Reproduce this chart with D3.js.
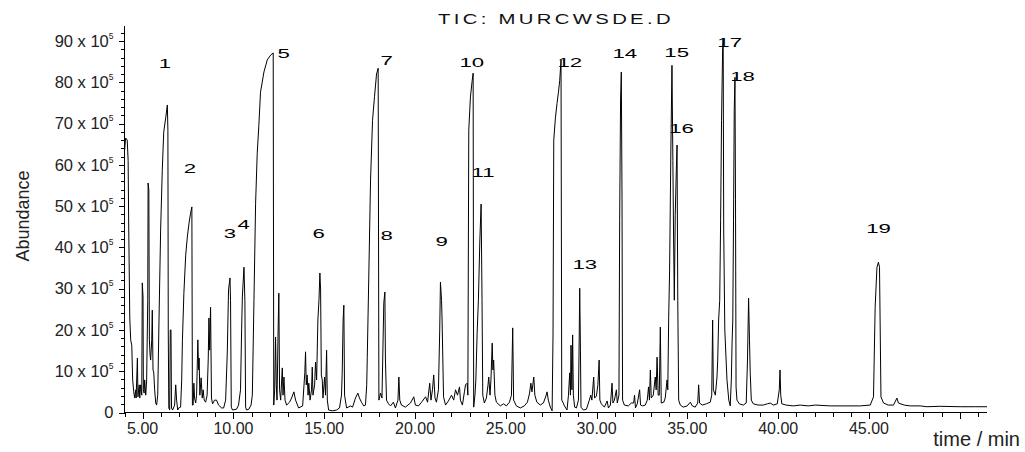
<!DOCTYPE html>
<html><head><meta charset="utf-8">
<script src="https://cdn.jsdelivr.net/npm/d3@7"></script>
<style>
html,body{margin:0;padding:0;background:#fff;}
svg{display:block;}
text{font-family:"Liberation Sans", Arial, Helvetica, sans-serif;}
</style></head><body>
<svg id="chart" width="1025" height="452"></svg>
<script>
// ---------- data ----------
const chartTitle = "TIC: MURCWSDE.D";
const yAxisTitle = "Abundance";
const xAxisTitle = "time / min";

const xLabelTicks = [5, 10, 15, 20, 25, 30, 35, 40, 45];
const xTickLabels = ["5.00", "10.00", "15.00", "20.00", "25.00", "30.00", "35.00", "40.00", "45.00"];
const xMajorTicks = [5, 10, 15, 20, 25, 30, 35, 40, 45, 50];
const xMinorTicks = [4,5,6,7,8,9,10,11,12,13,14,15,16,17,18,19,20,21,22,23,24,25,26,27,28,29,30,31,32,33,34,35,36,37,38,39,40,41,42,43,44,45,46,47,48,49,50,51];
const yLabelTicks = [0, 10, 20, 30, 40, 50, 60, 70, 80, 90];
const yTickMantissa = ["0", "10", "20", "30", "40", "50", "60", "70", "80", "90"];
const yTickExponent = "5";
const yMinorTicks = [0,2,4,6,8,10,12,14,16,18,20,22,24,26,28,30,32,34,36,38,40,42,44,46,48,50,52,54,56,58,60,62,64,66,68,70,72,74,76,78,80,82,84,86,88,90,92];

// peak numbers and where they are written (time in min, abundance in 1e5)
const peakIds = ["1","2","3","4","5","6","7","8","9","10","11","12","13","14","15","16","17","18","19"];
const peakLabelTime  = [5.88, 7.26, 9.46, 10.23, 12.43, 14.36, 18.10, 18.10, 21.13, 22.45, 23.11, 27.84, 28.67, 30.87, 33.73, 34.00, 36.65, 37.36, 44.85];
const peakLabelAbund = [83.4, 58.0, 42.3, 44.5, 85.8, 42.3, 84.1, 41.8, 40.3, 83.7, 57.0, 83.7, 34.7, 85.8, 86.1, 67.7, 88.5, 80.2, 43.5];

// total ion chromatogram: [time (min), abundance (x 1e5)]
const tic = [
[4.01,63.6],[4.06,66.5],[4.15,66.0],[4.20,61.1],[4.23,45.9],[4.29,22.9],[4.34,17.6],[4.40,16.3],[4.45,7.9],[4.51,5.0],[4.56,3.5],[4.62,5.5],[4.64,3.5],[4.71,13.2],[4.74,3.8],[4.81,6.7],[4.84,3.5],[4.89,6.7],[4.95,4.2],[4.98,31.4],[5.02,28.0],[5.04,5.5],[5.08,4.7],[5.11,7.9],[5.17,4.2],[5.22,7.9],[5.28,27.2],[5.30,55.6],[5.34,53.9],[5.37,17.6],[5.41,13.9],[5.44,12.7],[5.50,17.6],[5.53,24.8],[5.57,10.3],[5.61,9.8],[5.66,5.5],[5.72,2.3],[5.77,1.8],[5.83,4.2],[5.90,22.4],[5.99,44.2],[6.08,58.7],[6.16,67.9],[6.27,71.4],[6.36,74.5],[6.39,68.4],[6.41,20.0],[6.44,1.1],[6.49,0.6],[6.52,20.0],[6.56,20.0],[6.59,1.1],[6.65,0.6],[6.76,1.8],[6.82,6.7],[6.87,3.0],[6.93,0.6],[6.98,1.1],[7.09,1.3],[7.15,7.9],[7.19,17.6],[7.27,28.9],[7.37,38.1],[7.46,42.5],[7.56,46.1],[7.64,48.3],[7.71,49.8],[7.74,1.8],[7.78,1.8],[7.82,7.1],[7.86,3.5],[7.92,2.3],[7.97,4.2],[8.04,17.6],[8.08,10.3],[8.11,13.2],[8.15,4.2],[8.22,8.4],[8.28,3.5],[8.33,5.5],[8.39,3.0],[8.47,2.5],[8.55,4.2],[8.61,12.7],[8.65,22.9],[8.69,15.1],[8.74,25.5],[8.79,3.5],[8.85,2.1],[8.96,3.0],[9.07,3.0],[9.18,1.8],[9.35,1.1],[9.46,1.1],[9.57,3.0],[9.66,14.4],[9.73,29.7],[9.81,32.6],[9.84,27.2],[9.88,1.3],[9.95,0.6],[10.17,0.8],[10.28,1.8],[10.39,5.5],[10.45,20.0],[10.49,28.0],[10.58,35.2],[10.63,27.2],[10.67,1.3],[10.72,0.6],[10.85,0.8],[10.97,1.8],[11.04,4.2],[11.13,27.2],[11.22,50.7],[11.31,62.8],[11.40,69.6],[11.49,77.6],[11.68,82.5],[11.86,85.4],[12.05,86.6],[12.19,87.1],[12.22,1.8],[12.27,5.5],[12.32,18.3],[12.36,6.7],[12.40,3.0],[12.46,20.0],[12.50,28.9],[12.54,5.5],[12.60,3.0],[12.69,10.8],[12.73,4.2],[12.78,8.6],[12.84,3.0],[12.93,1.8],[13.09,2.5],[13.20,3.5],[13.33,5.0],[13.42,3.0],[13.59,1.1],[13.81,1.6],[13.93,9.6],[13.97,14.7],[14.01,6.7],[14.06,9.1],[14.11,4.2],[14.15,7.1],[14.22,3.0],[14.30,5.5],[14.34,11.0],[14.38,4.2],[14.47,6.7],[14.52,12.2],[14.58,7.9],[14.65,22.4],[14.71,27.2],[14.76,33.8],[14.80,29.7],[14.84,9.1],[14.89,7.9],[14.93,3.5],[15.02,8.6],[15.07,4.2],[15.13,15.1],[15.17,3.0],[15.24,0.6],[15.46,0.4],[15.68,0.6],[15.84,1.1],[15.95,4.2],[15.99,9.6],[16.04,22.4],[16.08,26.0],[16.12,4.2],[16.23,1.1],[16.45,1.6],[16.56,1.3],[16.72,3.5],[16.85,4.7],[16.94,3.5],[17.05,2.5],[17.18,1.6],[17.27,1.8],[17.34,6.7],[17.37,13.4],[17.45,32.1],[17.55,56.3],[17.66,70.8],[17.77,76.6],[17.88,82.0],[17.97,83.4],[18.01,3.0],[18.10,4.7],[18.18,3.5],[18.28,26.5],[18.34,29.2],[18.37,12.7],[18.43,3.0],[18.54,2.1],[18.65,1.6],[18.81,2.5],[18.92,1.1],[19.06,3.0],[19.11,8.6],[19.16,3.0],[19.25,1.8],[19.47,1.3],[19.75,2.3],[19.93,3.8],[20.02,1.8],[20.19,1.6],[20.36,2.5],[20.58,3.8],[20.69,2.5],[20.81,7.1],[20.88,3.0],[20.96,5.5],[21.03,9.1],[21.10,3.5],[21.18,2.5],[21.29,5.5],[21.36,20.0],[21.40,31.6],[21.46,27.2],[21.49,22.4],[21.57,3.8],[21.68,1.8],[21.84,2.8],[22.01,4.2],[22.13,3.0],[22.23,5.5],[22.34,4.2],[22.45,6.2],[22.50,3.0],[22.61,1.8],[22.72,5.0],[22.78,6.7],[22.87,7.1],[22.91,4.2],[22.96,68.4],[23.05,76.4],[23.15,80.5],[23.20,82.2],[23.23,1.3],[23.30,4.2],[23.35,7.9],[23.42,19.2],[23.49,27.2],[23.57,41.8],[23.64,50.5],[23.69,27.2],[23.73,4.2],[23.82,2.3],[23.93,3.5],[24.02,6.7],[24.06,8.6],[24.13,4.2],[24.18,7.9],[24.25,16.8],[24.29,10.3],[24.33,12.7],[24.40,4.2],[24.48,2.5],[24.70,1.6],[24.87,2.1],[25.03,1.6],[25.20,2.5],[25.31,4.2],[25.38,20.5],[25.43,3.0],[25.58,1.6],[25.80,1.1],[26.02,1.6],[26.19,2.5],[26.30,4.5],[26.38,7.1],[26.44,5.0],[26.54,8.6],[26.60,4.2],[26.71,2.5],[26.90,1.8],[27.07,2.3],[27.21,4.0],[27.27,5.0],[27.34,3.0],[27.45,1.3],[27.55,0.4],[27.60,18.8],[27.64,66.0],[27.73,71.3],[27.82,74.9],[27.90,77.6],[27.97,80.5],[28.04,85.4],[28.08,3.0],[28.14,2.5],[28.23,1.6],[28.37,0.6],[28.45,4.2],[28.52,9.6],[28.56,4.2],[28.59,16.3],[28.64,5.5],[28.68,18.8],[28.72,4.2],[28.79,1.3],[28.89,1.1],[29.00,3.0],[29.04,17.6],[29.07,30.1],[29.11,15.1],[29.14,1.3],[29.27,0.6],[29.44,0.8],[29.60,3.0],[29.68,4.2],[29.74,3.0],[29.84,8.6],[29.89,3.5],[29.99,4.0],[30.07,6.7],[30.14,12.7],[30.18,3.0],[30.26,2.1],[30.43,1.3],[30.58,2.8],[30.65,1.1],[30.76,1.8],[30.85,7.1],[30.90,2.3],[30.98,3.0],[31.09,5.5],[31.14,2.3],[31.23,4.2],[31.27,46.6],[31.32,75.7],[31.36,82.5],[31.40,51.5],[31.43,3.0],[31.53,1.8],[31.75,1.6],[31.91,2.3],[32.04,2.3],[32.09,4.2],[32.14,1.1],[32.24,2.1],[32.37,5.5],[32.42,1.8],[32.52,1.6],[32.68,1.8],[32.79,3.0],[32.86,6.2],[32.91,3.0],[32.96,10.3],[33.01,3.5],[33.12,4.2],[33.23,8.6],[33.28,5.5],[33.33,13.4],[33.39,4.2],[33.45,4.2],[33.51,20.7],[33.56,2.3],[33.70,2.5],[33.78,3.5],[33.88,7.9],[33.92,5.5],[33.97,23.1],[34.02,34.5],[34.09,63.6],[34.15,84.1],[34.20,61.1],[34.24,41.8],[34.28,27.2],[34.33,47.8],[34.39,58.7],[34.43,64.8],[34.47,27.2],[34.52,3.0],[34.61,1.8],[34.77,1.3],[34.99,1.6],[35.16,2.5],[35.27,1.6],[35.43,1.3],[35.57,2.3],[35.62,6.7],[35.67,2.3],[35.82,1.8],[36.04,2.1],[36.26,2.5],[36.34,4.2],[36.39,22.4],[36.43,5.5],[36.54,4.2],[36.63,8.6],[36.67,12.7],[36.72,22.4],[36.78,27.2],[36.83,46.6],[36.88,70.8],[36.94,87.8],[36.97,90.7],[37.00,44.2],[37.06,20.0],[37.18,7.9],[37.28,3.0],[37.36,1.6],[37.42,7.9],[37.46,16.8],[37.50,22.4],[37.54,46.6],[37.58,73.2],[37.62,81.2],[37.65,51.5],[37.68,6.2],[37.73,3.0],[37.86,2.1],[38.08,1.8],[38.24,2.3],[38.31,12.7],[38.37,27.7],[38.42,17.6],[38.46,9.6],[38.52,3.0],[38.63,2.1],[38.90,1.8],[39.18,1.8],[39.40,2.1],[39.56,2.3],[39.73,1.8],[39.95,2.1],[40.06,5.5],[40.10,10.3],[40.14,4.2],[40.20,2.1],[40.44,1.8],[40.83,1.6],[41.21,1.8],[41.65,1.6],[42.04,1.8],[42.87,1.6],[43.69,1.6],[44.52,1.6],[45.07,1.8],[45.25,3.8],[45.34,25.5],[45.44,35.2],[45.52,36.4],[45.58,35.2],[45.66,3.8],[45.80,2.3],[46.06,1.8],[46.35,1.8],[46.54,3.5],[46.62,2.3],[46.94,1.8],[47.27,1.6],[47.82,1.6],[48.19,1.4],[48.92,1.5],[50.02,1.4],[50.85,1.4],[51.50,1.4]
];

// ---------- drawing ----------
const svg = d3.select("#chart");
const x = d3.scaleLinear().domain([4, 51.5]).range([124.5, 987]);
const y = d3.scaleLinear().domain([0, 90]).range([412.5, 41]);
const textColor = "#222";

// axis lines
svg.append("line").attr("x1", x(4)).attr("x2", x(51.5)).attr("y1", y(0)).attr("y2", y(0))
  .attr("stroke", "#000").attr("stroke-width", 1).attr("shape-rendering", "crispEdges");
svg.append("line").attr("x1", x(4)).attr("x2", x(4)).attr("y1", y(0)).attr("y2", y(93.6))
  .attr("stroke", "#000").attr("stroke-width", 1).attr("shape-rendering", "crispEdges");

function cleanAxis(g) {
  g.select(".domain").remove();
  g.selectAll(".tick line").attr("stroke", "#000").attr("shape-rendering", "crispEdges");
}

// x ticks
svg.append("g").attr("transform", `translate(0,${y(0)})`)
  .call(d3.axisBottom(x).tickValues(xMinorTicks).tickSize(4).tickFormat("")).call(cleanAxis);
svg.append("g").attr("transform", `translate(0,${y(0)})`)
  .call(d3.axisBottom(x).tickValues(xMajorTicks).tickSize(6).tickFormat("")).call(cleanAxis);
svg.append("g").selectAll("text").data(xLabelTicks).join("text")
  .attr("x", d => x(d)).attr("y", 434).attr("text-anchor", "middle")
  .attr("font-size", 16).attr("fill", textColor)
  .text((d, i) => xTickLabels[i]);

// y ticks
svg.append("g").attr("transform", `translate(${x(4)},0)`)
  .call(d3.axisLeft(y).tickValues(yMinorTicks).tickSize(3.5).tickFormat("")).call(cleanAxis);
svg.append("g").attr("transform", `translate(${x(4)},0)`)
  .call(d3.axisLeft(y).tickValues(yLabelTicks).tickSize(6).tickFormat("")).call(cleanAxis);
const yl = svg.append("g").selectAll("text").data(yLabelTicks).join("text")
  .attr("x", 113.5).attr("y", d => y(d) + 5.8).attr("text-anchor", "end")
  .attr("font-size", 16.5).attr("fill", textColor);
yl.each(function(d, i) {
  const t = d3.select(this);
  if (d === 0) { t.text(yTickMantissa[i]); return; }
  t.append("tspan").text(yTickMantissa[i] + " x 10");
  t.append("tspan").attr("dy", -8).attr("font-size", 8.5).text(yTickExponent);
});

// axis titles
svg.append("text").attr("transform", "translate(29,216) rotate(-90)")
  .attr("text-anchor", "middle").attr("font-size", 18).attr("fill", textColor).text(yAxisTitle);
svg.append("text").attr("x", 1020).attr("y", 446).attr("text-anchor", "end")
  .attr("font-size", 20).attr("fill", textColor).text(xAxisTitle);

// chart title (wide, thin lettering like the original print)
svg.append("text").attr("transform", "translate(438,24) scale(1.45,1)")
  .attr("font-size", 14).attr("letter-spacing", 2.3).attr("fill", "#111").text(chartTitle);

// chromatogram
const line = d3.line().x(d => x(d[0])).y(d => y(d[1]));
svg.append("path").datum(tic).attr("d", line)
  .attr("fill", "none").attr("stroke", "#000").attr("stroke-width", 1).attr("stroke-linejoin", "miter");

// peak numbers
svg.append("g").selectAll("text").data(peakIds).join("text")
  .attr("transform", (d, i) => `translate(${x(peakLabelTime[i])},${y(peakLabelAbund[i])}) scale(1.85,1)`)
  .attr("font-size", 12).attr("fill", "#000").text(d => d);
</script>
</body></html>
